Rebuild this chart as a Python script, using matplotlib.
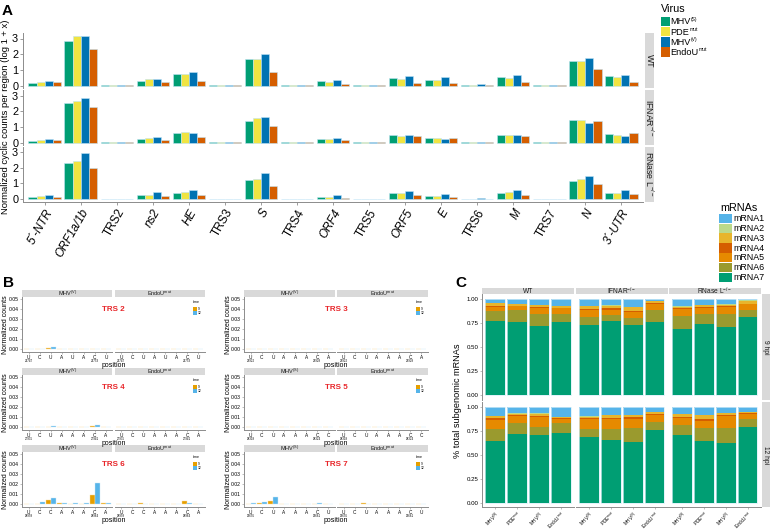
import matplotlib
matplotlib.use('Agg')
import matplotlib.pyplot as plt
import numpy as np
from matplotlib.patches import Rectangle

plt.rcParams['font.family'] = ['Liberation Sans', 'DejaVu Sans']
plt.rcParams['mathtext.fontset'] = 'custom'
plt.rcParams['mathtext.rm'] = 'Liberation Sans'
plt.rcParams['mathtext.it'] = 'Liberation Sans:italic'
plt.rcParams['mathtext.bf'] = 'Liberation Sans:bold'

# ---------------- data ----------------
regions = ["5´-NTR", "ORF1a/1b", "TRS2", "ns2", "HE", "TRS3", "S", "TRS4", "ORF4",
           "TRS5", "ORF5", "E", "TRS6", "M", "TRS7", "N", "3´-UTR"]
virus_base = ["MHV", "PDE", "MHV", "EndoU"]
virus_sup = ["(S)", "mut", "(V)", "mut"]
viruses = [r"MHV$^{\mathrm{(S)}}$", r"PDE$^{\mathrm{mut}}$", r"MHV$^{\mathrm{(V)}}$", r"EndoU$^{\mathrm{mut}}$"]
virus_colors = ["#009E73", "#F0E442", "#0072B2", "#D55E00"]
cell_rows = ["WT", r"IFNAR$^{-/-}$", r"RNase L$^{-/-}$"]

wt_mhvS = [0.19, 2.87, 0.02, 0.32, 0.76, 0.01, 1.71, 0.02, 0.30, 0.01, 0.48, 0.37, 0.04, 0.56, 0.02, 1.60, 0.60]
wt_pde = [0.26, 3.13, 0.02, 0.43, 0.76, 0.01, 1.71, 0.02, 0.26, 0.01, 0.41, 0.37, 0.02, 0.50, 0.02, 1.60, 0.56]
wt_mhvV = [0.28, 3.17, 0.03, 0.43, 0.84, 0.02, 2.03, 0.03, 0.37, 0.02, 0.60, 0.54, 0.10, 0.67, 0.03, 1.79, 0.69]
wt_endo = [0.22, 2.35, 0.02, 0.26, 0.32, 0.01, 0.89, 0.02, 0.13, 0.01, 0.17, 0.15, 0.02, 0.24, 0.02, 1.06, 0.22]

ifnar_mhvS = [0.13, 2.51, 0.03, 0.26, 0.64, 0.02, 1.39, 0.03, 0.24, 0.02, 0.51, 0.30, 0.05, 0.51, 0.03, 1.46, 0.56]
ifnar_pde = [0.15, 2.68, 0.03, 0.32, 0.69, 0.02, 1.56, 0.03, 0.26, 0.02, 0.43, 0.30, 0.05, 0.47, 0.03, 1.41, 0.49]
ifnar_mhvV = [0.21, 2.81, 0.03, 0.39, 0.62, 0.02, 1.65, 0.03, 0.30, 0.02, 0.47, 0.24, 0.05, 0.49, 0.03, 1.28, 0.43]
ifnar_endo = [0.15, 2.25, 0.03, 0.19, 0.36, 0.02, 1.03, 0.03, 0.17, 0.02, 0.41, 0.28, 0.05, 0.41, 0.03, 1.39, 0.60]

rnase_mhvS = [0.15, 2.33, 0.02, 0.24, 0.41, 0.02, 1.23, 0.02, 0.15, 0.02, 0.39, 0.19, 0.03, 0.39, 0.03, 1.17, 0.39]
rnase_pde = [0.22, 2.44, 0.02, 0.24, 0.48, 0.02, 1.30, 0.02, 0.15, 0.02, 0.37, 0.19, 0.02, 0.45, 0.03, 1.27, 0.39]
rnase_mhvV = [0.24, 2.94, 0.03, 0.45, 0.60, 0.02, 1.64, 0.03, 0.24, 0.02, 0.52, 0.35, 0.05, 0.58, 0.03, 1.45, 0.56]
rnase_endo = [0.11, 1.99, 0.02, 0.19, 0.26, 0.02, 0.82, 0.02, 0.09, 0.02, 0.24, 0.15, 0.02, 0.28, 0.03, 0.99, 0.32]

# Panel B: TRS sites
trs_names = ["TRS 2", "TRS 3", "TRS 4", "TRS 5", "TRS 6", "TRS 7"]
trs_seq2 = ["U", "C", "U", "A", "U", "A", "C", "U"]
trs_seq3 = ["U", "C", "U", "A", "A", "A", "C", "A"]
trs_seq4 = ["U", "C", "U", "A", "A", "A", "C", "A"]
trs_seq5 = ["U", "C", "U", "A", "A", "A", "C", "C"]
trs_seq6 = ["U", "C", "C", "A", "A", "A", "C", "A"]
trs_seq7 = ["U", "C", "U", "A", "A", "A", "C", "U"]
trs_pos = [("21747", "21753"), ("23922", "23928"), ("27935", "27941"),
           ("28318", "28324"), ("28958", "28964"), ("29655", "29661")]
trs_wt_virus = [r"MHV$^{\mathrm{(V)}}$", r"MHV$^{\mathrm{(V)}}$", r"MHV$^{\mathrm{(V)}}$",
                r"MHV$^{\mathrm{(S)}}$", r"MHV$^{\mathrm{(V)}}$", r"MHV$^{\mathrm{(S)}}$"]
time_colors = ["#E69F00", "#56B4E9"]

trs2_wt_9 = [0.0003, 0.0003, 0.0015, 0.0002, 0.0002, 0.0002, 0.0002, 0.0002]
trs2_wt_12 = [0.0003, 0.0006, 0.0024, 0.0002, 0.0008, 0.0002, 0.0002, 0.0002]
trs2_mut_9 = [0.0003, 0.0003, 0.0003, 0.0003, 0.0003, 0.0003, 0.0003, 0.0003]
trs2_mut_12 = [0.0003, 0.0003, 0.0003, 0.0003, 0.0003, 0.0003, 0.0003, 0.0003]
trs3_wt_9 = [0.0002, 0.0002, 0.0002, 0.0002, 0.0002, 0.0002, 0.0002, 0.0002]
trs3_wt_12 = [0.0002, 0.0002, 0.0008, 0.0002, 0.0002, 0.0002, 0.0008, 0.0004]
trs3_mut_9 = [0.0002, 0.0002, 0.0002, 0.0002, 0.0002, 0.0002, 0.0002, 0.0002]
trs3_mut_12 = [0.0002, 0.0002, 0.0004, 0.0002, 0.0002, 0.0002, 0.0002, 0.0002]
trs4_wt_9 = [0.0002, 0.0002, 0.0002, 0.0002, 0.0002, 0.0002, 0.0012, 0.0002]
trs4_wt_12 = [0.0002, 0.0003, 0.0011, 0.0002, 0.0002, 0.0002, 0.0028, 0.0002]
trs4_mut_9 = [0.0002, 0.0002, 0.0002, 0.0002, 0.0002, 0.0002, 0.0002, 0.0002]
trs4_mut_12 = [0.0002, 0.0002, 0.0002, 0.0002, 0.0002, 0.0002, 0.0002, 0.0002]
trs5_wt_9 = [0.0003, 0.0003, 0.0003, 0.0003, 0.0003, 0.0003, 0.0003, 0.0003]
trs5_wt_12 = [0.0003, 0.0003, 0.0003, 0.0003, 0.0003, 0.0003, 0.0003, 0.0003]
trs5_mut_9 = [0.0003, 0.0003, 0.0003, 0.0003, 0.0003, 0.0003, 0.0003, 0.0003]
trs5_mut_12 = [0.0003, 0.0003, 0.0003, 0.0003, 0.0003, 0.0003, 0.0003, 0.0003]
trs6_wt_9 = [0.0005, 0.0005, 0.0040, 0.0010, 0.0005, 0.0007, 0.0095, 0.0015]
trs6_wt_12 = [0.0006, 0.0020, 0.0065, 0.0010, 0.0010, 0.0010, 0.0210, 0.0010]
trs6_mut_9 = [0.0003, 0.0003, 0.0010, 0.0003, 0.0003, 0.0003, 0.0030, 0.0005]
trs6_mut_12 = [0.0003, 0.0003, 0.0003, 0.0003, 0.0003, 0.0003, 0.0010, 0.0003]
trs7_wt_9 = [0.0005, 0.0010, 0.0030, 0.0005, 0.0003, 0.0003, 0.0005, 0.0005]
trs7_wt_12 = [0.0010, 0.0020, 0.0075, 0.0005, 0.0005, 0.0005, 0.0010, 0.0008]
trs7_mut_9 = [0.0003, 0.0003, 0.0010, 0.0008, 0.0005, 0.0005, 0.0005, 0.0003]
trs7_mut_12 = [0.0003, 0.0005, 0.0003, 0.0005, 0.0003, 0.0003, 0.0003, 0.0003]

# Panel C: mRNA composition, columns = mRNA1..mRNA7
mrnas = ["mRNA1", "mRNA2", "mRNA3", "mRNA4", "mRNA5", "mRNA6", "mRNA7"]
mrna_colors = ["#56B4E9", "#BCD98A", "#E8B52C", "#D55E00", "#E68A00", "#9A9A2E", "#009E73"]
c_facets = ["WT", r"IFNAR$^{-/-}$", r"RNase L$^{-/-}$"]
c_times = ["9 hpi", "12 hpi"]

h9_wt = [[0.042, 0.004, 0.024, 0.010, 0.045, 0.108, 0.767],
         [0.052, 0.004, 0.012, 0.010, 0.035, 0.130, 0.757],
         [0.062, 0.004, 0.018, 0.010, 0.059, 0.132, 0.715],
         [0.073, 0.004, 0.014, 0.007, 0.062, 0.076, 0.764]]
h9_ifnar = [[0.073, 0.004, 0.024, 0.017, 0.066, 0.083, 0.733],
            [0.066, 0.004, 0.024, 0.020, 0.049, 0.066, 0.771],
            [0.083, 0.004, 0.034, 0.017, 0.063, 0.066, 0.733],
            [0.021, 0.003, 0.021, 0.005, 0.068, 0.125, 0.757]]
h9_rnase = [[0.076, 0.004, 0.013, 0.010, 0.076, 0.132, 0.689],
            [0.062, 0.004, 0.017, 0.010, 0.059, 0.111, 0.737],
            [0.056, 0.004, 0.013, 0.010, 0.076, 0.128, 0.713],
            [0.014, 0.003, 0.032, 0.004, 0.066, 0.073, 0.808]]
h12_wt = [[0.092, 0.005, 0.020, 0.015, 0.095, 0.130, 0.643],
          [0.068, 0.005, 0.012, 0.012, 0.073, 0.110, 0.720],
          [0.066, 0.005, 0.020, 0.012, 0.110, 0.077, 0.710],
          [0.105, 0.005, 0.005, 0.013, 0.040, 0.103, 0.729]]
h12_ifnar = [[0.090, 0.015, 0.015, 0.008, 0.100, 0.083, 0.689],
             [0.083, 0.005, 0.023, 0.017, 0.100, 0.117, 0.655],
             [0.083, 0.005, 0.018, 0.015, 0.097, 0.145, 0.637],
             [0.052, 0.005, 0.015, 0.010, 0.070, 0.086, 0.762]]
h12_rnase = [[0.072, 0.005, 0.026, 0.013, 0.076, 0.103, 0.705],
             [0.083, 0.005, 0.040, 0.020, 0.069, 0.138, 0.645],
             [0.059, 0.005, 0.015, 0.020, 0.117, 0.162, 0.622],
             [0.048, 0.005, 0.012, 0.013, 0.052, 0.076, 0.794]]

# ---------------- figure helpers ----------------
W, H = 778, 530
fig = plt.figure(figsize=(W / 100, H / 100), dpi=100)
renderer = fig.canvas.get_renderer()
STRIP = '#D9D9D9'
AXC = '#8c8c8c'


def ax_px(x0, y0, x1, y1):
    return fig.add_axes([x0 / W, 1 - y1 / H, (x1 - x0) / W, (y1 - y0) / H])


def strip(x0, y0, x1, y1, text, rot=0, fs=6):
    a = ax_px(x0, y0, x1, y1)
    a.set_facecolor(STRIP)
    a.set_xticks([]); a.set_yticks([])
    for s in a.spines.values():
        s.set_visible(False)
    a.text(0.5, 0.5, text, rotation=rot, ha='center', va='center', fontsize=fs,
           transform=a.transAxes, color='#1a1a1a')
    return a


def ftext(x, y, s, **kw):
    return fig.text(x / W, 1 - y / H, s, **kw)


def sup_text(x, y, base, sup, fs, supfs):
    t = ftext(x, y, base, fontsize=fs, va='center')
    bb = t.get_window_extent(renderer)
    ftext(bb.x1 + 0.3, y - fs * 0.42, sup, fontsize=supfs, va='center')


def frect(x0, y0, x1, y1, color):
    fig.add_artist(Rectangle((x0 / W, 1 - y1 / H), (x1 - x0) / W, (y1 - y0) / H,
                             transform=fig.transFigure, facecolor=color, edgecolor='none'))


def clean(ax, left=True, bottom=True):
    for k in ['top', 'right']:
        ax.spines[k].set_visible(False)
    ax.spines['left'].set_visible(left)
    ax.spines['bottom'].set_visible(bottom)
    ax.spines['left'].set_color(AXC)
    ax.spines['bottom'].set_color(AXC)
    ax.spines['left'].set_linewidth(0.7)
    ax.spines['bottom'].set_linewidth(0.7)
    ax.set_facecolor('none')


# ---------------- Panel A ----------------
ftext(2, 11, 'A', fontsize=11, fontweight='bold', va='center')
a_rows = [[wt_mhvS, wt_pde, wt_mhvV, wt_endo],
          [ifnar_mhvS, ifnar_pde, ifnar_mhvV, ifnar_endo],
          [rnase_mhvS, rnase_pde, rnase_mhvV, rnase_endo]]
a_y = [(33, 88), (90, 145), (146.5, 201.5)]
xA0, xA1 = 23, 643
x = np.arange(1, len(regions) + 1)
bw = 0.225
for r, (vals, (y0, y1)) in enumerate(zip(a_rows, a_y)):
    ax = ax_px(xA0, y0, xA1, y1)
    for j, v in enumerate(vals):
        ax.bar(x + (j - 1.5) * bw, v, width=bw, color=virus_colors[j],
               edgecolor='#bfe3f5', linewidth=0.4)
    ax.set_xlim(0.4, len(regions) + 0.6)
    ax.set_ylim(-0.15, 3.35)
    ax.set_yticks([0, 1, 2, 3])
    clean(ax, left=True, bottom=(r == 2))
    ax.tick_params(axis='y', length=2, width=0.6, color=AXC, labelsize=7.8, pad=1.5)
    if r == 2:
        ax.set_xticks(x)
        ax.set_xticklabels(regions, rotation=60, ha='right', va='top',
                           rotation_mode='anchor', fontsize=8.5)
        for lab in ax.get_xticklabels():
            if not lab.get_text().startswith('TRS'):
                lab.set_fontstyle('italic')
        ax.tick_params(axis='x', length=2, width=0.6, color=AXC, pad=2)
    else:
        ax.set_xticks([])
    strip(645, y0, 654, y1, cell_rows[r], rot=-90, fs=6.3)

ftext(6, 117, 'Normalized cyclic counts per region (log 1 + x)', rotation=90,
      ha='center', va='center', fontsize=6.8)

# Virus legend
ftext(661, 9, 'Virus', fontsize=7.8, va='center')
for j, col in enumerate(virus_colors):
    yc = 21.5 + j * 10.2
    frect(661, yc - 4.6, 669.5, yc + 4.6, col)
    sup_text(670.5, yc + 0.5, virus_base[j], virus_sup[j], 6.6, 3.6)

# ---------------- Panel B ----------------
ftext(3, 283, 'B', fontsize=11, fontweight='bold', va='center')
b_seqs = [trs_seq2, trs_seq3, trs_seq4, trs_seq5, trs_seq6, trs_seq7]
b_vals = [(trs2_wt_9, trs2_wt_12, trs2_mut_9, trs2_mut_12),
          (trs3_wt_9, trs3_wt_12, trs3_mut_9, trs3_mut_12),
          (trs4_wt_9, trs4_wt_12, trs4_mut_9, trs4_mut_12),
          (trs5_wt_9, trs5_wt_12, trs5_mut_9, trs5_mut_12),
          (trs6_wt_9, trs6_wt_12, trs6_mut_9, trs6_mut_12),
          (trs7_wt_9, trs7_wt_12, trs7_mut_9, trs7_mut_12)]
b_cols = [((22, 112.5), (114.5, 205), 6), ((244, 335), (337, 428), 228)]
b_zero = [349.3, 427.3, 504.3]
xb = np.arange(1, 9)
for k in range(6):
    col = k % 2
    row = k // 2
    (f1, f2, ylx) = b_cols[col]
    z = b_zero[row]
    top, bot = z - 52.5, z + 2.5
    v9a, v12a, v9b, v12b = b_vals[k]
    for fi, ((fx0, fx1), v9, v12, name) in enumerate(
            [(f1, v9a, v12a, trs_wt_virus[k]), (f2, v9b, v12b, r"EndoU$^{\mathrm{mut}}$")]):
        ax = ax_px(fx0, top, fx1, bot)
        ax.bar(xb - 0.225, v9, width=0.45, color=time_colors[0], edgecolor='#f7dca0', linewidth=0.3)
        ax.bar(xb + 0.225, v12, width=0.45, color=time_colors[1], edgecolor='#cde8f7', linewidth=0.3)
        ax.set_xlim(0.4, 8.6)
        ax.set_ylim(-0.0025, 0.0525)
        clean(ax, left=(fi == 0), bottom=True)
        ax.set_xticks(xb)
        ax.set_xticklabels(b_seqs[k], fontsize=3.4)
        ax.tick_params(axis='x', length=1.2, width=0.4, color=AXC, pad=0.8)
        if fi == 0:
            ax.set_yticks([0, 0.01, 0.02, 0.03, 0.04, 0.05])
            ax.set_yticklabels(['0.00', '0.01', '0.02', '0.03', '0.04', '0.05'], fontsize=3.7)
            ax.tick_params(axis='y', length=1.2, width=0.4, color=AXC, pad=1)
        else:
            ax.set_yticks([])
        for pi, num in zip([1, 7], trs_pos[k]):
            ax.text(pi, -0.0093, num, fontsize=2.1, ha='center', va='top',
                    transform=ax.transData, clip_on=False)
        strip(fx0, top - 6.5, fx1, top - 0.3, name, fs=4.0)
    mid = (f1[1] + f2[0]) / 2
    ftext(ylx, z - 25, 'Normalized counts', rotation=90, ha='center', va='center', fontsize=5.0)
    ftext(mid, z + 15.8, 'position', ha='center', va='center', fontsize=5.0)
    ftext(mid, z - 39.5, trs_names[k], ha='center', va='center', fontsize=5.8,
          fontweight='bold', color='#E8262A')
    lx = f2[1] - 12
    ftext(lx, z - 47, 'time', fontsize=2.6, va='center')
    frect(lx - 0.5, z - 42.6, lx + 3.5, z - 38.6, time_colors[0])
    frect(lx - 0.5, z - 38.6, lx + 3.5, z - 34.4, time_colors[1])
    ftext(lx + 5, z - 40.6, '9', fontsize=2.4, va='center')
    ftext(lx + 5, z - 36.5, '12', fontsize=2.4, va='center')

# ---------------- Panel C ----------------
ftext(455, 283, 'C', fontsize=11, fontweight='bold', va='center')
c_data = [[h9_wt, h9_ifnar, h9_rnase], [h12_wt, h12_ifnar, h12_rnase]]
c_fx = [(482, 574), (576, 667.7), (669, 760.7)]
c_rows = [(294.2, 399.8), (402.2, 507.3)]
xc = np.arange(1, 5)
for ri, (y0, y1) in enumerate(c_rows):
    for fi, (fx0, fx1) in enumerate(c_fx):
        ax = ax_px(fx0, y0, fx1, y1)
        data = np.array(c_data[ri][fi], dtype=float)
        data = data / data.sum(axis=1, keepdims=True)
        bottom = np.zeros(4)
        for m in range(6, -1, -1):
            ax.bar(xc, data[:, m], bottom=bottom, width=0.9, color=mrna_colors[m],
                   edgecolor='none', linewidth=0)
            bottom += data[:, m]
        ax.bar(xc, np.ones(4), width=0.9, facecolor='none', edgecolor='#d6eef8', linewidth=0.5)
        ax.set_xlim(0.4, 4.6)
        ax.set_ylim(-0.05, 1.05)
        clean(ax, left=(fi == 0), bottom=(ri == 1))
        if fi == 0:
            ax.set_yticks([0, 0.25, 0.5, 0.75, 1.0])
            ax.set_yticklabels(['0.00', '0.25', '0.50', '0.75', '1.00'], fontsize=4.4)
            ax.tick_params(axis='y', length=1.5, width=0.4, color=AXC, pad=1)
        else:
            ax.set_yticks([])
        if ri == 1:
            ax.set_xticks(xc)
            ax.set_xticklabels(viruses, rotation=45, ha='right', va='top',
                               rotation_mode='anchor', fontsize=3.3)
            ax.tick_params(axis='x', length=1.3, width=0.4, color=AXC, pad=0.6)
        else:
            ax.set_xticks([])
        if ri == 0:
            strip(fx0, y0 - 6, fx1, y0 - 0.3, c_facets[fi], fs=4.8)
    strip(762, y0, 770, y1, c_times[ri], rot=-90, fs=4.8)

ftext(457, 401, '% total subgenomic mRNAs', rotation=90, ha='center', va='center', fontsize=6.6)

# mRNA legend
ftext(720, 208, 'mRNAs', fontsize=7.8, va='center')
for m, (lab, col) in enumerate(zip(mrnas, mrna_colors)):
    yc = 218.5 + m * 9.8
    frect(719, yc - 4.7, 732, yc + 4.7, col)
    ftext(733.5, yc + 0.3, lab, fontsize=6.4, va='center')

fig.savefig('out.png', dpi=100)
